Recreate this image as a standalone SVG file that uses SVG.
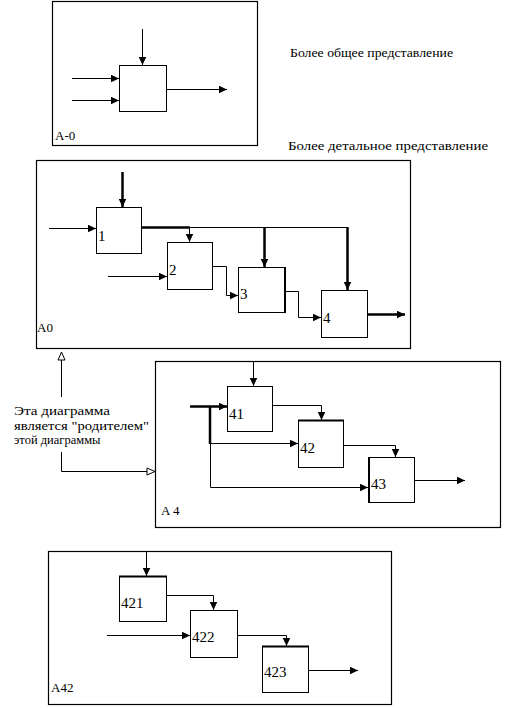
<svg xmlns="http://www.w3.org/2000/svg" width="512" height="708" viewBox="0 0 512 708">
<defs>
<marker id="ah" markerUnits="userSpaceOnUse" markerWidth="10" markerHeight="9" refX="8.5" refY="4" orient="auto"><path d="M0,0 L8.5,4 L0,8 z" fill="#000"/></marker>
<marker id="ho" markerUnits="userSpaceOnUse" markerWidth="11" markerHeight="10" refX="9" refY="4.5" orient="auto"><path d="M1,1 L9,4.5 L1,8 z" fill="#fff" stroke="#000" stroke-width="1"/></marker>
</defs>
<style>
.frame{fill:none;stroke:#000;stroke-width:1.2}
.box{fill:#fff;stroke:#000;stroke-width:1}
.c{fill:none;stroke:#000;stroke-width:1}
.t{fill:none;stroke:#000;stroke-width:2.5}
.a{marker-end:url(#ah)}
text{fill:#000}
.lbl{font-size:15px}
.cap{font-size:13px}
.note{font-size:12.5px}
</style>
<g font-family="'Liberation Serif', serif">
<g id="diagram-A-0">
<rect class="frame" x="52.5" y="1.5" width="205" height="144"/>
<text class="cap" x="55" y="140">A-0</text>
</g>
<g id="box-A-0"><rect class="box" x="119.5" y="65.5" width="47" height="46"/></g>

<text class="note" x="290" y="57" textLength="163" lengthAdjust="spacingAndGlyphs">Более общее представление</text>
<text class="note" x="288" y="150" textLength="200" lengthAdjust="spacingAndGlyphs">Более детальное представление</text>

<g id="diagram-A0">
<rect class="frame" x="36.5" y="160.5" width="374" height="188"/>
<text class="cap" x="37" y="332">A0</text>
</g>
<g id="box-1"><rect class="box" x="96.5" y="207.5" width="45" height="46"/><text class="lbl" x="98" y="241">1</text></g>
<g id="box-2"><rect class="box" x="167.5" y="242.5" width="45" height="47"/><text class="lbl" x="169" y="275">2</text></g>
<g id="box-3"><rect class="box" x="238.5" y="267.5" width="46" height="45"/><line x1="285" y1="267" x2="285" y2="313" stroke="#000" stroke-width="2"/><text class="lbl" x="240" y="299">3</text></g>
<g id="box-4"><rect class="box" x="321.5" y="290.5" width="46" height="47"/><text class="lbl" x="323" y="323">4</text></g>

<g id="note">
<text class="note" x="14" y="415" textLength="96" lengthAdjust="spacingAndGlyphs">Эта диаграмма</text>
<text class="note" x="14" y="430" textLength="135" lengthAdjust="spacingAndGlyphs">является "родителем"</text>
<text class="note" x="14" y="444">этой диаграммы</text>
</g>

<g id="diagram-A4">
<rect class="frame" x="155.5" y="361.5" width="345" height="166"/>
<text class="cap" x="161" y="515">A 4</text>
</g>
<g id="box-41"><rect class="box" x="227.5" y="386.5" width="45" height="45"/><text class="lbl" x="229" y="419">41</text></g>
<g id="box-42"><rect class="box" x="298.5" y="420.5" width="45" height="47"/><line x1="298" y1="420.5" x2="344" y2="420.5" stroke="#000" stroke-width="2"/><text class="lbl" x="300" y="453">42</text></g>
<g id="box-43"><rect class="box" x="368.5" y="457.5" width="46" height="45"/><line x1="369" y1="457" x2="369" y2="503" stroke="#000" stroke-width="2"/><text class="lbl" x="371" y="489">43</text></g>

<g id="diagram-A42">
<rect class="frame" x="48.5" y="551.5" width="343" height="153"/>
<text class="cap" x="51" y="692">A42</text>
</g>
<g id="box-421"><rect class="box" x="119.5" y="576.5" width="47" height="45"/><line x1="119" y1="576.5" x2="167" y2="576.5" stroke="#000" stroke-width="2"/><text class="lbl" x="121" y="608">421</text></g>
<g id="box-422"><rect class="box" x="190.5" y="610.5" width="47" height="47"/><text class="lbl" x="192" y="642">422</text></g>
<g id="box-423"><rect class="box" x="262.5" y="646.5" width="46" height="46"/><line x1="262" y1="646.5" x2="309" y2="646.5" stroke="#000" stroke-width="2"/><text class="lbl" x="264" y="677">423</text></g>
</g>
<g id="connectors">
<path class="c a" d="M142.5,29 V65"/>
<path class="c a" d="M72,78.5 H119"/>
<path class="c a" d="M72,100.5 H119"/>
<path class="c a" d="M167,89.5 H227"/>
<path class="t a" d="M122.5,172 V207"/>
<path class="c a" d="M49,228.5 H96"/>
<path class="t" d="M141,227.5 H190"/>
<path class="c a" d="M189.5,227.5 V242"/>
<path class="c" d="M189.5,227.5 H348.5"/>
<path class="t a" d="M264.5,227.5 V267"/>
<path class="t a" d="M347.5,227.5 V290"/>
<path class="c a" d="M108,276.5 H167"/>
<path class="c a" d="M213,266.5 H226.5 V295.5 H238"/>
<path class="c a" d="M285,291.5 H298.5 V317.5 H321"/>
<path class="t a" d="M368,314.5 H405"/>
<path class="c" d="M61.5,397 V352" marker-end="url(#ho)"/>
<path class="c" d="M61.5,452 V471.5 H155" marker-end="url(#ho)"/>
<path class="c a" d="M253.5,361 V386"/>
<path class="t a" d="M190,406.5 H227"/>
<path class="t" d="M210,406.5 V444"/>
<path class="c" d="M210.5,443 V487.5"/>
<path class="c a" d="M210.5,443.5 H298"/>
<path class="c a" d="M210.5,487.5 H368"/>
<path class="c a" d="M272,405.5 H321.5 V420"/>
<path class="c a" d="M343,445.5 H395.5 V457"/>
<path class="c a" d="M414,480.5 H465"/>
<path class="c a" d="M146.5,551 V576"/>
<path class="c a" d="M167,595.5 H213.5 V610"/>
<path class="c a" d="M107,635.5 H190"/>
<path class="c a" d="M238,635.5 H286.5 V646"/>
<path class="c a" d="M308,670.5 H358"/>
</g>
</svg>
